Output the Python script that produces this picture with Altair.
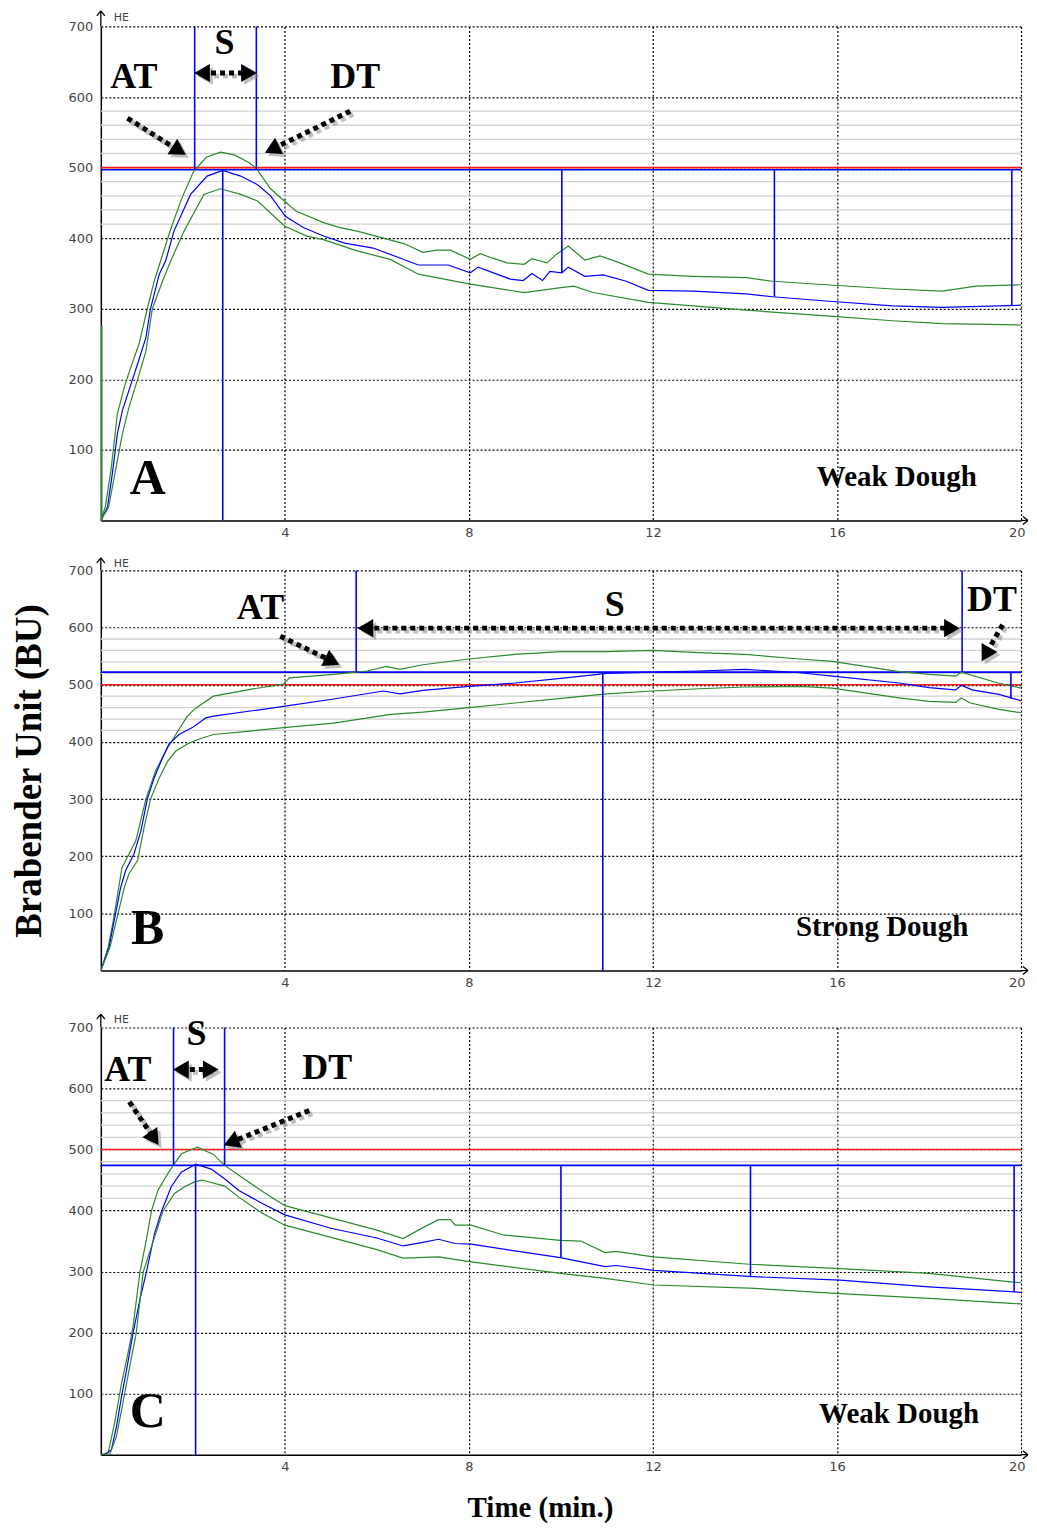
import math
import altair as alt
import pandas as pd

# ---------------- data ----------------
# Panel A (weak dough)
A_x_up = [0, 0.1, 0.22, 0.36, 0.51, 0.65, 0.83, 1.01, 1.16, 1.3, 1.52, 1.75, 2.02, 2.3, 2.6, 2.9, 3.2, 3.38, 3.69, 4.0, 4.25, 4.84, 5.2, 5.57, 6.2, 6.6, 7.0, 7.3, 7.6, 8.03, 8.25, 8.5, 8.83, 9.2, 9.37, 9.7, 9.9, 10.16, 10.52, 10.85, 11.28, 11.9, 12.87, 14.03, 14.6, 15.76, 17.21, 18.29, 19.02, 20]
A_up = [0, 20, 71, 151, 189, 217, 250, 300, 339, 368, 413, 455, 495, 515, 522, 518, 508, 499, 470, 452, 438, 422, 415, 410, 399, 392, 380, 383, 383, 370, 378, 372, 365, 363, 371, 365, 377, 389, 369, 375, 365, 349, 346, 344, 339, 334, 328, 325, 332, 334]
A_x_mid = [0, 0.145, 0.25, 0.36, 0.47, 0.61, 0.8, 0.98, 1.08, 1.27, 1.41, 1.59, 1.95, 2.31, 2.65, 3.04, 3.4, 3.69, 4.01, 4.4, 4.84, 5.3, 5.92, 6.5, 6.9, 7.55, 8.03, 8.2, 8.9, 9.18, 9.37, 9.6, 9.76, 10.02, 10.16, 10.52, 10.92, 11.42, 11.9, 12.87, 14.03, 14.6, 15.76, 17.21, 18.29, 20]
A_mid = [0, 19, 66, 123, 156, 184, 222, 259, 300, 349, 368, 410, 462, 488, 496, 488, 476, 460, 431, 415, 403, 393, 386, 372, 362, 362, 351, 359, 342, 340, 350, 340, 353, 351, 359, 346, 348, 339, 326, 325, 321, 317, 311, 304, 302, 305]
A_x_lo = [0, 0.17, 0.33, 0.47, 0.61, 0.8, 0.98, 1.12, 1.34, 1.52, 1.81, 2.24, 2.6, 3.04, 3.4, 4.0, 4.48, 4.84, 5.57, 6.29, 6.9, 8.03, 9.2, 10.0, 10.28, 10.7, 11.9, 12.87, 14.03, 15.76, 17.21, 18.29, 20]
A_lo = [0, 19, 75, 123, 160, 200, 240, 300, 339, 368, 410, 462, 470, 462, 453, 417, 403, 398, 382, 370, 349, 335, 323, 330, 332, 323, 309, 304, 298, 290, 283, 279, 277]
A_level, A_at, A_dt, A_peak = 497, 2.04, 3.38, 2.65
A_drop_x = [10.02, 14.64, 19.8]
A_drop_y = [351, 317, 305]

# Panel B (strong dough)
B_x_up = [0, 0.16, 0.27, 0.46, 0.76, 0.98, 1.19, 1.41, 1.63, 1.88, 2.06, 2.45, 3.25, 3.97, 4.1, 5.06, 5.79, 6.2, 6.5, 7, 8, 9, 10, 11, 12, 13, 14, 15.19, 15.9, 17.35, 18, 18.58, 18.7, 19.5, 20]
B_up = [0, 41, 87, 180, 227, 300, 349, 384, 413, 445, 459, 480, 492, 501, 512, 518, 524, 532, 527, 535, 545, 553, 558, 558, 560, 556, 553, 545, 541, 523, 518, 515, 522, 503, 494]
B_x_mid = [0, 0.18, 0.29, 0.43, 0.54, 0.72, 0.87, 1.01, 1.16, 1.34, 1.48, 1.7, 1.99, 2.28, 2.45, 3.25, 3.97, 5.06, 6.14, 6.5, 7, 8, 9, 10, 11, 12, 13, 14, 15.19, 15.9, 17.35, 18.0, 18.58, 18.7, 18.94, 19.52, 20]
B_mid = [0, 41, 87, 145, 175, 204, 244, 300, 337, 372, 396, 413, 425, 442, 445, 454, 462, 475, 489, 484, 490, 497, 503, 511, 520, 522, 524, 527, 521, 515, 503, 495, 491, 499, 491, 483, 472]
B_x_lo = [0, 0.2, 0.36, 0.51, 0.61, 0.8, 0.94, 1.08, 1.27, 1.45, 1.63, 1.92, 2.14, 2.45, 3.25, 3.97, 5.06, 6.3, 7, 8, 9, 10, 11, 12, 13, 14, 15.19, 15.9, 17.35, 18.0, 18.58, 18.7, 18.9, 19.52, 20]
B_lo = [0, 41, 95, 145, 169, 193, 250, 300, 337, 366, 384, 398, 405, 413, 419, 425, 433, 448, 452, 460, 468, 476, 484, 489, 493, 496, 497, 494, 477, 471, 469, 477, 468, 457, 451]
B_level, B_at, B_dt, B_peak = 522, 5.55, 18.72, 10.91
B_drop_x = [19.78]
B_drop_y = [476]

# Panel C (weak dough)
C_x_up = [0, 0.16, 0.3, 0.45, 0.59, 0.7, 0.85, 0.99, 1.1, 1.24, 1.46, 1.6, 1.75, 2.1, 2.45, 2.69, 3.0, 3.5, 4.0, 5.0, 6.0, 6.57, 7.0, 7.34, 7.6, 7.7, 8.05, 8.75, 9.99, 10.43, 10.96, 11.2, 12.0, 14.09, 16.07, 18.0, 19.78, 20]
C_up = [0, 3, 52, 117, 166, 210, 299, 352, 399, 433, 461, 477, 493, 504, 492, 474, 458, 432, 408, 388, 368, 354, 372, 385, 385, 376, 376, 360, 351, 350, 331, 333, 324, 312, 305, 297, 283, 282]
C_x_mid = [0, 0.09, 0.23, 0.34, 0.45, 0.56, 0.7, 0.85, 0.99, 1.17, 1.32, 1.53, 1.75, 2.06, 2.4, 2.69, 3.0, 3.5, 4.0, 5.0, 6.0, 6.57, 7.0, 7.34, 7.7, 8.05, 9.0, 9.99, 10.5, 10.96, 11.2, 12.02, 14.09, 16.07, 18.0, 19.78, 20]
C_mid = [0, 0, 8, 46, 95, 139, 199, 254, 299, 363, 399, 439, 463, 476, 468, 452, 433, 412, 393, 371, 355, 342, 348, 353, 346, 345, 334, 323, 315, 308, 310, 302, 292, 286, 275, 267, 266]
C_x_lo = [0, 0.19, 0.34, 0.48, 0.67, 0.77, 0.92, 1.1, 1.24, 1.35, 1.6, 1.82, 2.04, 2.2, 2.69, 3.0, 3.5, 4.0, 5.0, 6.0, 6.57, 7.34, 8.05, 9.99, 10.96, 12.02, 14.09, 16.07, 18.0, 19.78, 20]
C_lo = [0, 0, 30, 85, 161, 199, 299, 341, 373, 399, 428, 439, 447, 450, 440, 422, 396, 376, 356, 336, 322, 324, 316, 297, 289, 278, 273, 264, 256, 248, 247]
C_level, C_at, C_dt, C_peak = 474, 1.58, 2.69, 2.06
C_drop_x = [10.0, 14.12, 19.85]
C_drop_y = [323, 292, 267]

# Axis ticks / gridlines
X_TICKS = [4, 8, 12, 16, 20]
Y_TICKS = [100, 200, 300, 400, 500, 600, 700]
MINOR_Y = [420, 440, 460, 480, 520, 540, 560, 580]
LIMIT = 500

# Annotation texts (label, x, y) per panel
A_labels = [("AT", 0.72, 629), ("S", 2.69, 676), ("DT", 5.53, 629)]
B_labels = [("AT", 3.47, 635), ("S", 11.17, 640), ("DT", 19.37, 649)]
C_labels = [("AT", 0.59, 631), ("S", 2.08, 690), ("DT", 4.92, 633)]
A_letter, B_letter, C_letter = ("A", 1.02, 59), ("B", 1.02, 73), ("C", 1.02, 70)
A_dough, B_dough, C_dough = ("Weak Dough", 17.3, 62), ("Strong Dough", 16.98, 77), ("Weak Dough", 17.35, 67)

# Annotation arrows: (x1, y1, x2, y2, double?)
A_arrows = [(0.58, 570, 1.7, 524, False), (5.42, 580, 3.72, 526, False), (2.2, 634, 3.22, 634, True)]
B_arrows = [(3.9, 585, 5.03, 541, False), (19.6, 605, 19.23, 553, False), (5.75, 599, 18.5, 599, True)]
C_arrows = [(0.62, 578, 1.16, 518, False), (4.53, 564, 2.83, 512, False), (1.74, 631, 2.39, 631, True)]

W = 922
GREEN = "#2b8a2b"
BLUE = "#0000ff"
SERIF = "Liberation Serif"
SANS = "DejaVu Sans"


def make_axes(xtitle, ytitle):
    xax = alt.Axis(values=X_TICKS, grid=True, gridColor="black", gridDash=[2, 2], gridWidth=1.2,
                   domainColor="black", domainWidth=1.5, ticks=False, labelFont=SANS,
                   labelFontSize=13, labelColor="#444", labelPadding=6,
                   labelFlush=True, labelFlushOffset=4,
                   title=xtitle, titleFont=SERIF, titleFontSize=29, titleFontWeight="bold",
                   titleColor="black", titlePadding=20, titleX=440, titleAlign="center")
    yax = alt.Axis(values=Y_TICKS, grid=True, gridColor="black", gridDash=[2, 2], gridWidth=1.2,
                   domainColor="black", domainWidth=1.5, ticks=False, labelFont=SANS,
                   labelFontSize=13, labelColor="#444", labelPadding=8,
                   title=ytitle, titleFont=SERIF, titleFontSize=37, titleFontWeight="bold",
                   titleColor="black", titlePadding=20)
    return xax, yax


def panel(H, xu, yu, xm, ym, xl, yl, level, at, dt, peak, drop_x, drop_y,
          labels, letter, dough, arrows, xtitle=None, ytitle=None, spike=None, top_space=None):
    xax, yax = make_axes(xtitle, ytitle)
    xs = alt.Scale(domain=[0, 20], nice=False, zero=False)
    ys = alt.Scale(domain=[0, 700], nice=False)

    def X(f="t"):
        return alt.X(f"{f}:Q", scale=xs, axis=xax)

    def Y(f="bu"):
        return alt.Y(f"{f}:Q", scale=ys, axis=yax)

    rows = []
    for s, xx, yy in (("up", xu, yu), ("mid", xm, ym), ("lo", xl, yl)):
        for a, b in zip(xx, yy):
            rows.append({"t": a, "bu": b, "s": s})
    curves = pd.DataFrame(rows)

    base_lines = alt.Chart(curves).mark_line(strokeWidth=1.2, clip=True).encode(
        x=X(), y=Y(),
        color=alt.Color("s:N", scale=alt.Scale(domain=["up", "mid", "lo"], range=[GREEN, BLUE, GREEN]), legend=None),
        detail="s:N",
    )

    minor = alt.Chart(pd.DataFrame({"bu": MINOR_Y})).mark_rule(color="#d2d2d2", strokeWidth=1.3).encode(y=Y())
    red = alt.Chart(pd.DataFrame({"bu": [LIMIT]})).mark_rule(color="#ff1a1a", strokeWidth=1.6).encode(y=Y())
    hblue = alt.Chart(pd.DataFrame({"bu": [level]})).mark_rule(color=BLUE, strokeWidth=1.6).encode(y=Y())

    vr = [{"t": at, "bu": level, "bu2": 700}, {"t": dt, "bu": level, "bu2": 700},
          {"t": peak, "bu": 0, "bu2": level}]
    for a, b in zip(drop_x, drop_y):
        vr.append({"t": a, "bu": b, "bu2": level})
    vblue = alt.Chart(pd.DataFrame(vr)).mark_rule(color=BLUE, strokeWidth=1.6).encode(
        x=X(), y=Y(), y2="bu2:Q")

    layers = [minor, red, hblue, base_lines, vblue]

    if spike is not None:
        layers.append(alt.Chart(pd.DataFrame([{"t": 0.02, "bu": 0, "bu2": spike}])).mark_rule(
            color=GREEN, strokeWidth=1.5).encode(x=X(), y=Y(), y2="bu2:Q"))

    # axis arrows (drawn as short rules) and HE label
    ax_dx = 4 * 20.0 / W
    ax_dy = 5 * 700.0 / H
    hx = 5 * 20.0 / W
    hy = 4 * 700.0 / H
    tip_y, tip_x = 722, 20.15
    segs = [
        {"t": 0, "bu": 700, "t2": 0, "bu2": tip_y},
        {"t": 0, "bu": tip_y, "t2": -ax_dx, "bu2": tip_y - ax_dy},
        {"t": 0, "bu": tip_y, "t2": ax_dx, "bu2": tip_y - ax_dy},
        {"t": 20, "bu": 0, "t2": tip_x, "bu2": 0},
        {"t": tip_x, "bu": 0, "t2": tip_x - hx, "bu2": hy},
        {"t": tip_x, "bu": 0, "t2": tip_x - hx, "bu2": -hy},
    ]
    layers.append(alt.Chart(pd.DataFrame(segs)).mark_rule(color="black", strokeWidth=1.3).encode(
        x=X(), y=Y(), x2="t2:Q", y2="bu2:Q"))
    if top_space is not None:
        layers.append(alt.Chart(pd.DataFrame([{"t": 0, "bu": 700, "bu2": top_space}])).mark_rule(
            color="white", opacity=0, strokeWidth=1).encode(x=X(), y=Y(), y2="bu2:Q"))
    layers.append(alt.Chart(pd.DataFrame([{"t": 0.28, "bu": 712, "txt": "HE"}])).mark_text(
        font=SANS, fontSize=11, color="#444", align="left", baseline="middle").encode(x=X(), y=Y(), text="txt:N"))

    # texts
    lab_df = pd.DataFrame([{"txt": a, "t": b, "bu": c} for a, b, c in labels])
    layers.append(alt.Chart(lab_df).mark_text(font=SERIF, fontSize=36, fontWeight="bold", color="black",
                                              baseline="middle").encode(x=X(), y=Y(), text="txt:N"))
    let_df = pd.DataFrame([{"txt": letter[0], "t": letter[1], "bu": letter[2]}])
    layers.append(alt.Chart(let_df).mark_text(font=SERIF, fontSize=50, fontWeight="bold", color="black",
                                              baseline="middle").encode(x=X(), y=Y(), text="txt:N"))
    d_df = pd.DataFrame([{"txt": dough[0], "t": dough[1], "bu": dough[2]}])
    layers.append(alt.Chart(d_df).mark_text(font=SERIF, fontSize=29, fontWeight="bold", color="black",
                                            baseline="middle").encode(x=X(), y=Y(), text="txt:N"))

    # arrows
    lines, heads = [], []
    for x1, y1, x2, y2, dbl in arrows:
        lines.append({"t": x1, "bu": y1, "t2": x2, "bu2": y2})
        dxp = (x2 - x1) * W / 20.0
        dyp = -(y2 - y1) * H / 700.0
        ang = math.degrees(math.atan2(dxp, -dyp)) % 360
        heads.append({"t": x2, "bu": y2, "ang": ang})
        if dbl:
            heads.append({"t": x1, "bu": y1, "ang": (ang + 180) % 360})
    ldf = pd.DataFrame(lines)
    hdf = pd.DataFrame(heads)
    for col, off, op in (("#8a8a8a", 3, 0.55), ("black", 0, 1.0)):
        layers.append(alt.Chart(ldf).mark_rule(color=col, strokeWidth=5, strokeDash=[5, 4], opacity=op,
                                               xOffset=off, yOffset=off, x2Offset=off, y2Offset=off).encode(
            x=X(), y=Y(), x2="t2:Q", y2="bu2:Q"))
        layers.append(alt.Chart(hdf).mark_point(shape="triangle-up", filled=True, size=330, color=col,
                                                opacity=op, xOffset=off, yOffset=off).encode(
            x=X(), y=Y(), angle=alt.Angle("ang:Q", scale=None)))

    return alt.layer(*layers).properties(width=W, height=H)


pA = panel(495, A_x_up, A_up, A_x_mid, A_mid, A_x_lo, A_lo, A_level, A_at, A_dt, A_peak,
           A_drop_x, A_drop_y, A_labels, A_letter, A_dough, A_arrows, spike=276)
pB = panel(401, B_x_up, B_up, B_x_mid, B_mid, B_x_lo, B_lo, B_level, B_at, B_dt, B_peak,
           B_drop_x, B_drop_y, B_labels, B_letter, B_dough, B_arrows, ytitle="Brabender Unit (BU)")
pC = panel(428, C_x_up, C_up, C_x_mid, C_mid, C_x_lo, C_lo, C_level, C_at, C_dt, C_peak,
           C_drop_x, C_drop_y, C_labels, C_letter, C_dough, C_arrows, xtitle="Time (min.)", top_space=734)

chart = alt.vconcat(pA, pB, pC, spacing=17).properties(
    padding={"left": 2, "top": 0, "right": 0, "bottom": 0}
).configure_view(stroke=None)

chart.save("out.html", embed_options={"renderer": "svg", "actions": False})
